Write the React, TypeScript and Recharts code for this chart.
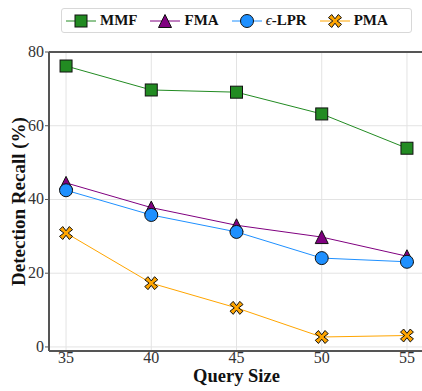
import React from "react";
import { CartesianGrid, Line, LineChart, ReferenceLine, XAxis, YAxis } from "recharts";

const querySizes = [35, 40, 45, 50, 55];
const mmf = [76.2, 69.7, 69.1, 63.2, 53.9];
const fma = [44.5, 37.8, 33.0, 29.8, 24.6];
const lpr = [42.5, 35.8, 31.2, 24.1, 23.1];
const pma = [30.9, 17.3, 10.6, 2.7, 3.1];

const yTicks = [0, 20, 40, 60, 80];

const serif = "Liberation Serif, DejaVu Serif, serif";

const data = querySizes.map((q, i) => ({
    q,
    mmf: mmf[i],
    fma: fma[i],
    lpr: lpr[i],
    pma: pma[i],
}));

type Kind = "square" | "triangle" | "circle" | "x";

function Marker({ kind, cx, cy, fill }: { kind: Kind; cx: number; cy: number; fill: string }) {
    const s = 6.5;
    if (kind === "square") {
        return <rect x={cx - 6} y={cy - 6} width={12} height={12} fill={fill} stroke="#111" strokeWidth={1} />;
    }
    if (kind === "triangle") {
        return (
            <polygon
                points={`${cx},${cy - s} ${cx - s},${cy + s} ${cx + s},${cy + s}`}
                fill={fill}
                stroke="#111"
                strokeWidth={1}
            />
        );
    }
    if (kind === "circle") {
        return <circle cx={cx} cy={cy} r={6.5} fill={fill} stroke="#111" strokeWidth={1} />;
    }
    // filled "X" marker
    const a = 6.5;
    const b = 3.2;
    const c = 2.2;
    const pts = [
        [-a + b, -a], [0, -c], [a - b, -a], [a, -a + b], [c, 0], [a, a - b],
        [a - b, a], [0, c], [-a + b, a], [-a, a - b], [-c, 0], [-a, -a + b],
    ]
        .map(([x, y]) => `${cx + x},${cy + y}`)
        .join(" ");
    return <polygon points={pts} fill={fill} stroke="#111" strokeWidth={1} strokeLinejoin="round" />;
}

const series = [
    { key: "mmf", name: "MMF", color: "#228B22", kind: "square" as Kind },
    { key: "fma", name: "FMA", color: "#800080", kind: "triangle" as Kind },
    { key: "lpr", name: "ϵ-LPR", color: "#1E90FF", kind: "circle" as Kind },
    { key: "pma", name: "PMA", color: "#FFA500", kind: "x" as Kind },
];

function XTick(props: any) {
    const { x, y, payload } = props;
    return (
        <text x={x} y={y + 12} textAnchor="middle" fontFamily={serif} fontSize={16} fill="#333">
            {payload.value}
        </text>
    );
}

function YTick(props: any) {
    const { x, y, payload } = props;
    return (
        <text x={x} y={y + 5} textAnchor="end" fontFamily={serif} fontSize={16} fill="#333">
            {payload.value}
        </text>
    );
}

function LegendBox() {
    return (
        <div
            style={{
                position: "absolute",
                left: 61,
                top: 8,
                width: 351,
                height: 25,
                display: "flex",
                alignItems: "center",
                border: "1px solid #d8d8d8",
                borderRadius: 3,
                background: "#fff",
                paddingLeft: 4,
                boxSizing: "border-box",
                fontFamily: serif,
                fontWeight: "bold",
                fontSize: 15,
                color: "#111",
            }}
        >
            {series.map((s) => (
                <div key={s.key} style={{ display: "flex", alignItems: "center", marginRight: 13 }}>
                    <svg width={30} height={20} style={{ marginRight: 4 }}>
                        <line x1={0} y1={10} x2={30} y2={10} stroke={s.color} strokeWidth={1} />
                        <Marker kind={s.kind} cx={15} cy={10} fill={s.color} />
                    </svg>
                    {s.key === "lpr" ? (
                        <span>
                            <span style={{ fontStyle: "italic", fontWeight: "normal" }}>ϵ</span>-LPR
                        </span>
                    ) : (
                        <span>{s.name}</span>
                    )}
                </div>
            ))}
        </div>
    );
}

export default function App() {
    return (
        <div
            style={{
                position: "absolute",
                left: 0,
                top: 0,
                width: 422,
                height: 391,
                overflow: "hidden",
                background: "#fff",
                fontFamily: serif,
            }}
        >
            <LineChart
                width={430}
                height={391}
                data={data}
                margin={{ top: 52, right: 6, bottom: 0, left: 0 }}
            >
                <CartesianGrid stroke="#e3e3e3" strokeWidth={1} />
                <XAxis
                    dataKey="q"
                    type="number"
                    domain={[34, 56]}
                    ticks={querySizes}
                    height={40}
                    tickSize={0}
                    tickMargin={0}
                    tickLine={false}
                    axisLine={{ stroke: "#555", strokeWidth: 2 }}
                    tick={<XTick />}
                    label={{
                        value: "Query Size",
                        position: "insideBottom",
                        offset: 9,
                        style: { fontFamily: serif, fontSize: 18.5, fontWeight: "bold", fill: "#111" },
                    }}
                />
                <YAxis
                    type="number"
                    domain={[-1.1, 80]}
                    ticks={yTicks}
                    width={49}
                    tickSize={4}
                    tickMargin={1}
                    tickLine={{ stroke: "#555" }}
                    axisLine={{ stroke: "#555", strokeWidth: 2 }}
                    tick={<YTick />}
                    label={{
                        content: (props: any) => {
                            const vb = props.viewBox;
                            const x = vb.x + 25;
                            const y = vb.y + vb.height / 2;
                            return (
                                <text
                                    x={x}
                                    y={y}
                                    transform={`rotate(-90 ${x} ${y})`}
                                    textAnchor="middle"
                                    fontFamily={serif}
                                    fontSize={19}
                                    fontWeight="bold"
                                    fill="#111"
                                >
                                    Detection Recall (%)
                                </text>
                            );
                        },
                    }}
                />
                <ReferenceLine y={80} stroke="#555" strokeWidth={2} />
                {series.map((s) => (
                    <Line
                        key={s.key}
                        dataKey={s.key}
                        name={s.name}
                        stroke={s.color}
                        strokeWidth={1}
                        isAnimationActive={false}
                        dot={(p: any) => <Marker key={`${s.key}-${p.index}`} kind={s.kind} cx={p.cx} cy={p.cy} fill={s.color} />}
                        activeDot={false}
                    />
                ))}
            </LineChart>
            <LegendBox />
        </div>
    );
}
